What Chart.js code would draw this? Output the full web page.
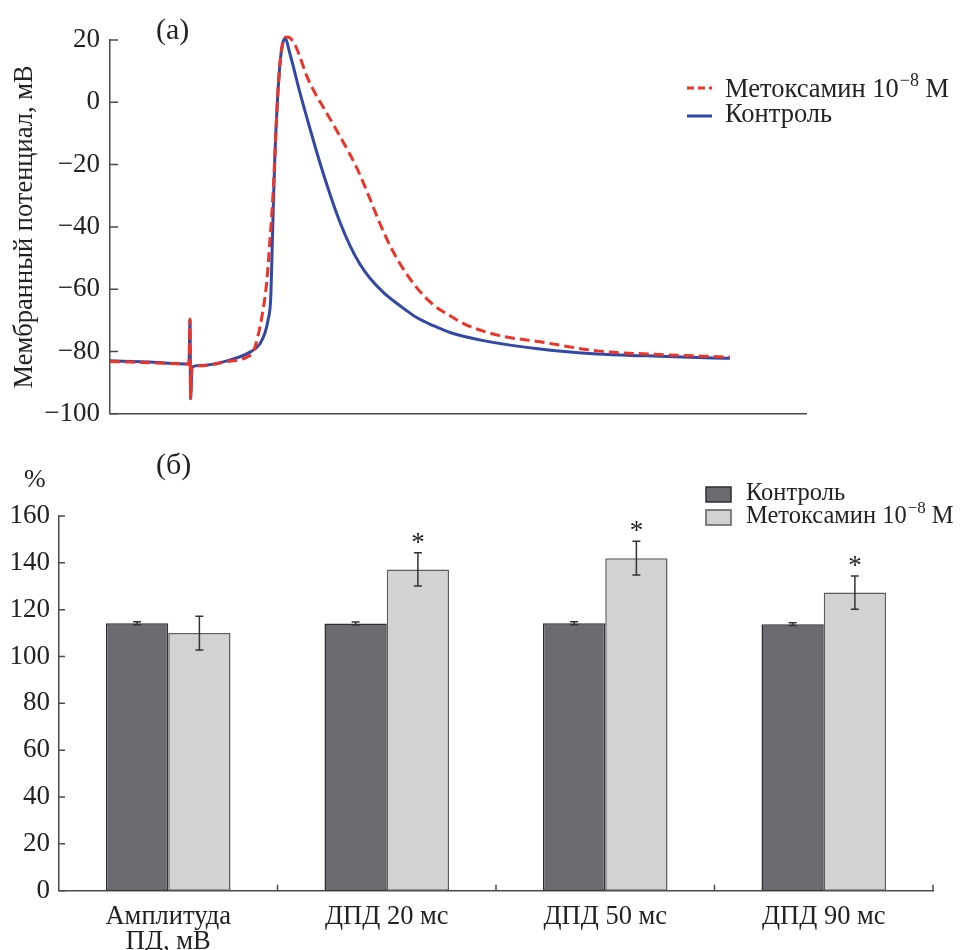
<!DOCTYPE html>
<html>
<head>
<meta charset="utf-8">
<script src="https://cdn.jsdelivr.net/npm/chart.js@4.4.1/dist/chart.umd.min.js"></script>
<style>
  body { margin: 0; background: #fff; }
  #wrap { position: relative; width: 960px; height: 950px; }
  #wrap canvas { position: absolute; left: 0; }
</style>
</head>
<body>
<div id="wrap">
  <canvas id="apChart" width="960" height="440" style="top:0"></canvas>
  <canvas id="barChart" width="960" height="510" style="top:440px"></canvas>
</div>
<script>
// (а) action potential traces (time in sweep units, potential in mV)
var ctrlTime = [0, 40, 79, 80, 80.6, 82, 90, 117, 140, 150, 155, 158, 160.7, 161.7, 163.3, 165, 167.3, 170, 172.7, 175,
  180, 190, 200, 210, 220, 230, 240, 250, 260, 273.3, 290, 306.7, 323.3, 340, 373.3, 430, 487, 537, 603, 620];
var ctrlMv = [-83, -83.4, -84, -69.8, -95.2, -85, -84.5, -83, -80.2, -77.5, -74, -70, -63, -52.6, -33.3, -16.3, -0.3, 12.5, 18.9, 20.5,
  15.5, 3, -8.5, -19.5, -29.5, -38.5, -46, -52, -56.5, -61, -65.3, -69.1, -71.7, -73.9, -76.5, -79.2, -80.8, -81.4, -82.1, -82.2];
var metTime = [0, 40, 79, 80, 80.6, 82, 90, 117, 137, 143.3, 148, 152, 156.7, 160, 162.7, 165, 167.3, 170, 172.7, 176.7,
  180, 185, 190, 196.7, 205, 213.3, 230, 246.7, 260, 270, 280, 290, 306.7, 323.3, 340, 356.7, 390, 430, 487, 537, 620];
var metMv = [-83.2, -83.6, -84, -69.6, -95, -85, -84.6, -83.2, -81.8, -80, -75, -68.6, -57.8, -44, -31.2, -16.3, -0.3, 12.5, 18.9, 21,
  20.7, 18.5, 14.5, 8.5, 3, -1.6, -10.9, -21, -31, -39, -46, -51.8, -59.5, -65, -68.5, -71.5, -74.9, -76.9, -79.8, -80.8, -81.8];

// (б) parameters, %
var barLabels = [["Амплитуда", "ПД, мВ"], "ДПД 20 мс", "ДПД 50 мс", "ДПД 90 мс"];
var ctrlPct = [114.2, 114.1, 114.2, 113.8];
var ctrlErr = [0.6, 0.6, 0.6, 0.6];
var metPct = [110.0, 137.2, 142.0, 127.3];
var metErr = [7.2, 7.1, 7.2, 7.1];
var metSignif = [false, true, true, true];

var FONT = '"Liberation Serif", "Times New Roman", serif';
var INK = "#222";
var AXIS = "#4a4a4a";
var RED = "#ec3427";
var BLUE = "#3148a6";
var DARK = "#6b6c71";
var LIGHT = "#d1d2d4";

Chart.defaults.font.family = FONT;
Chart.defaults.color = INK;

function toPoints(t, v) {
  var pts = [];
  for (var i = 0; i < t.length; i++) pts.push({ x: t[i], y: v[i] });
  return pts;
}

function minusSign(v) {
  return String(v).replace("-", "\u2212");
}

// small tick marks drawn inside the plot, like the original
function innerTicks(yLen, xLen, xDivs) {
  return {
    id: "innerTicks",
    afterDatasetsDraw: function(chart) {
      var ctx = chart.ctx, ya = chart.scales.y, xa = chart.scales.x;
      ctx.save();
      ctx.strokeStyle = AXIS;
      ctx.lineWidth = 1.5;
      ctx.beginPath();
      ya.ticks.forEach(function(t) {
        var y = ya.getPixelForValue(t.value);
        ctx.moveTo(ya.right, y);
        ctx.lineTo(ya.right + yLen, y);
      });
      if (xDivs) {
        for (var i = 1; i <= xDivs; i++) {
          var x = xa.left + i * (xa.right - xa.left) / xDivs;
          ctx.moveTo(x, xa.top);
          ctx.lineTo(x, xa.top - xLen);
        }
      }
      ctx.stroke();
      ctx.restore();
    }
  };
}

// "Метоксамин 10^-8 М" with a raised exponent
function drawMetLabel(ctx, x, y, size) {
  ctx.font = size + "px " + FONT;
  var s = "Метоксамин 10";
  ctx.fillText(s, x, y);
  var w = ctx.measureText(s).width;
  ctx.font = Math.round(size * 0.68) + "px " + FONT;
  ctx.fillText("\u22128", x + w + 1, y - size * 0.34);
  var w2 = ctx.measureText("\u22128").width;
  ctx.font = size + "px " + FONT;
  ctx.fillText(" М", x + w + 1 + w2, y);
}

var apDecor = {
  id: "apDecor",
  afterDraw: function(chart) {
    var ctx = chart.ctx;
    ctx.save();
    ctx.fillStyle = INK;
    ctx.textBaseline = "middle";
    ctx.font = "30px " + FONT;
    ctx.fillText("(а)", 156, 31);

    ctx.lineWidth = 3;
    ctx.strokeStyle = RED;
    ctx.setLineDash([7, 4]);
    ctx.beginPath(); ctx.moveTo(687, 88); ctx.lineTo(712, 88); ctx.stroke();
    ctx.setLineDash([]);
    ctx.strokeStyle = BLUE;
    ctx.beginPath(); ctx.moveTo(687, 116); ctx.lineTo(712, 116); ctx.stroke();

    drawMetLabel(ctx, 725, 90, 26.5);
    ctx.fillText("Контроль", 725, 115);
    ctx.restore();
  }
};

var barDecor = {
  id: "barDecor",
  afterDatasetsDraw: function(chart) {
    var ctx = chart.ctx, ya = chart.scales.y;
    var metaC = chart.getDatasetMeta(0), metaM = chart.getDatasetMeta(1);
    ctx.save();
    ctx.strokeStyle = "#333";
    ctx.lineWidth = 1.5;
    function errBar(x, v, e) {
      var top = ya.getPixelForValue(v + e), bot = ya.getPixelForValue(v - e);
      ctx.beginPath();
      ctx.moveTo(x, top); ctx.lineTo(x, bot);
      ctx.moveTo(x - 4, top); ctx.lineTo(x + 4, top);
      ctx.moveTo(x - 4, bot); ctx.lineTo(x + 4, bot);
      ctx.stroke();
    }
    for (var i = 0; i < ctrlPct.length; i++) {
      errBar(metaC.data[i].x, ctrlPct[i], ctrlErr[i]);
      errBar(metaM.data[i].x, metPct[i], metErr[i]);
      if (metSignif[i]) {
        ctx.fillStyle = INK;
        ctx.font = "27px " + FONT;
        ctx.textAlign = "center";
        ctx.textBaseline = "alphabetic";
        ctx.fillText("*", metaM.data[i].x, ya.getPixelForValue(metPct[i] + metErr[i]) - 2);
      }
    }
    ctx.restore();
  },
  afterDraw: function(chart) {
    var ctx = chart.ctx;
    ctx.save();
    ctx.fillStyle = INK;
    ctx.textBaseline = "middle";
    ctx.font = "30px " + FONT;
    ctx.fillText("(б)", 156, 26);
    ctx.font = "26px " + FONT;
    ctx.fillText("%", 24, 40);

    ctx.lineWidth = 1.5;
    ctx.fillStyle = DARK; ctx.strokeStyle = "#2e2e31";
    ctx.fillRect(706, 47, 25, 15); ctx.strokeRect(706, 47, 25, 15);
    ctx.fillStyle = LIGHT; ctx.strokeStyle = "#5c5c5e";
    ctx.fillRect(706, 70, 25, 15); ctx.strokeRect(706, 70, 25, 15);

    ctx.fillStyle = INK;
    ctx.font = "24.5px " + FONT;
    ctx.fillText("Контроль", 746, 54);
    drawMetLabel(ctx, 746, 77, 24.5);
    ctx.restore();
  }
};

new Chart(document.getElementById("apChart"), {
  type: "line",
  data: {
    datasets: [
      { label: "Метоксамин 10−8 М", data: toPoints(metTime, metMv), borderColor: RED, borderWidth: 3,
        borderDash: [10, 5], pointRadius: 0, fill: false, clip: false, cubicInterpolationMode: "monotone" },
      { label: "Контроль", data: toPoints(ctrlTime, ctrlMv), borderColor: BLUE, borderWidth: 3,
        pointRadius: 0, fill: false, clip: false, cubicInterpolationMode: "monotone" }
    ]
  },
  options: {
    responsive: false,
    animation: false,
    layout: { padding: { top: 40, right: 154, left: 0, bottom: 0 } },
    plugins: { legend: { display: false }, tooltip: { enabled: false } },
    scales: {
      x: {
        type: "linear", min: 0, max: 696,
        ticks: { display: false },
        grid: { display: false, drawTicks: false },
        border: { display: true, color: AXIS, width: 1.5 },
        afterFit: function(s) { s.height = 25; }
      },
      y: {
        min: -100, max: 20,
        ticks: { stepSize: 20, padding: 10, color: INK, font: { size: 27 }, callback: minusSign },
        grid: { display: false, drawTicks: false },
        border: { display: true, color: AXIS, width: 1.5 },
        title: { display: true, text: "Мембранный потенциал, мВ", color: INK, font: { size: 26.5 }, padding: { top: 9, bottom: 0 } },
        afterFit: function(s) { s.width = 110; }
      }
    }
  },
  plugins: [innerTicks(8, 0, 0), apDecor]
});

new Chart(document.getElementById("barChart"), {
  type: "bar",
  data: {
    labels: barLabels,
    datasets: [
      { label: "Контроль", data: ctrlPct, backgroundColor: DARK, borderColor: "#2e2e31", borderWidth: 1.5,
        borderSkipped: false, categoryPercentage: 0.57, barPercentage: 1 },
      { label: "Метоксамин 10−8 М", data: metPct, backgroundColor: LIGHT, borderColor: "#5c5c5e", borderWidth: 1.5,
        borderSkipped: false, categoryPercentage: 0.57, barPercentage: 1 }
    ]
  },
  options: {
    responsive: false,
    animation: false,
    layout: { padding: { top: 76, right: 27, left: 0, bottom: 0 } },
    plugins: { legend: { display: false }, tooltip: { enabled: false } },
    scales: {
      x: {
        ticks: { padding: 14, color: INK, font: { size: 26.5, lineHeight: 0.95 }, maxRotation: 0, autoSkip: false },
        grid: { display: false, drawTicks: false },
        border: { display: true, color: AXIS, width: 1.5 },
        afterFit: function(s) { s.height = 59.3; }
      },
      y: {
        min: 0, max: 160,
        ticks: { stepSize: 20, padding: 9, color: INK, font: { size: 27 } },
        grid: { display: false, drawTicks: false },
        border: { display: true, color: AXIS, width: 1.5 },
        afterFit: function(s) { s.width = 59; }
      }
    }
  },
  plugins: [innerTicks(6, 6, 4), barDecor]
});
</script>
</body>
</html>
